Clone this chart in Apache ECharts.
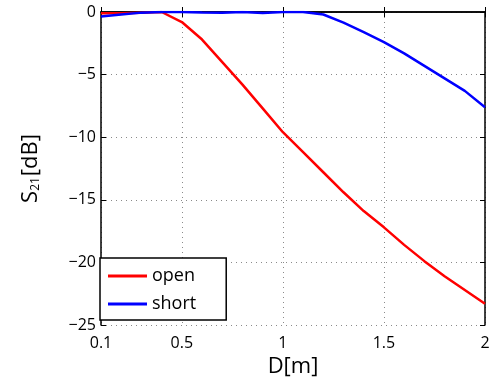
<!DOCTYPE html>
<html><head><meta charset="utf-8">
<script src="https://cdn.jsdelivr.net/npm/echarts@6/dist/echarts.min.js"></script>
<style>html,body{margin:0;padding:0;background:#fff}#c{width:493px;height:387px}</style>
</head><body><div id="c"></div>
<script>
var distances = [0.1,0.2,0.3,0.4,0.5,0.6,0.7,0.8,0.9,1.0,1.1,1.2,1.3,1.4,1.5,1.6,1.7,1.8,1.9,2.0];
var openS21 = [-0.1,-0.1,-0.05,0,-0.8,-2.2,-4.0,-5.8,-7.7,-9.6,-11.2,-12.8,-14.4,-15.9,-17.2,-18.6,-19.9,-21.1,-22.2,-23.3];
var shortS21 = [-0.35,-0.2,-0.05,0,0,-0.03,-0.05,0,-0.08,0,0,-0.2,-0.85,-1.6,-2.4,-3.3,-4.3,-5.3,-6.3,-7.6];
var xTicks = [0.1,0.5,1,1.5,2];
var seriesNames = ['open','short'];

var FONT = 'Open Sans';
function pairs(xs, ys){ return xs.map(function(x,i){return [x, ys[i]];}); }
var grid = {left:101, top:12, right:8, bottom:62, show:false};
var dotted = {show:true, lineStyle:{color:'#8a8a8a', type:[1,4], width:1}};
var chart = echarts.init(document.getElementById('c'));
chart.setOption({
  animation:false,
  grid: grid,
  legend: {
    left:100, top:258, orient:'vertical',
    data: seriesNames,
    icon:'rect', itemWidth:39, itemHeight:3, itemGap:10,
    padding:[9,30,7,8],
    backgroundColor:'#fff', borderColor:'#000', borderWidth:1.5, borderRadius:0,
    textStyle:{fontFamily:FONT, fontSize:18, lineHeight:18, color:'#000'}
  },
  xAxis: [{
    type:'value', min:0.1, max:2, position:'bottom',
    name:'D[m]', nameLocation:'middle', nameGap:28,
    nameTextStyle:{fontFamily:FONT, fontSize:22, color:'#000'},
    axisLine:{show:true, lineStyle:{color:'#000', width:1.5}},
    axisTick:{show:true, inside:true, length:5, customValues:xTicks, lineStyle:{color:'#000'}},
    axisLabel:{customValues:xTicks, fontFamily:FONT, fontSize:16, color:'#000', margin:10,
      formatter:function(v){return String(v);}},
    splitLine: dotted
  },{
    type:'value', min:0.1, max:2, position:'top',
    axisLine:{show:true, onZero:false, lineStyle:{color:'#000', width:1.5}},
    axisTick:{show:true, inside:true, length:5, customValues:xTicks, lineStyle:{color:'#000'}},
    axisLabel:{show:false}, splitLine:{show:false}
  }],
  yAxis: [{
    type:'value', min:-25, max:0, interval:5,
    name:'{a|S}{b|21}{a|[dB]}', nameLocation:'middle', nameGap:59, nameRotate:90,
    nameTextStyle:{rich:{
      a:{fontFamily:FONT, fontSize:22, color:'#000'},
      b:{fontFamily:FONT, fontSize:12, color:'#000', padding:[10,1,0,0]}
    }},
    axisLine:{show:true, onZero:false, lineStyle:{color:'#000', width:1.5}},
    axisTick:{show:true, inside:true, length:5, lineStyle:{color:'#000'}},
    axisLabel:{fontFamily:FONT, fontSize:16, color:'#000', margin:5,
      formatter:function(v){return String(v).replace('-','\u2212');}},
    splitLine: dotted
  },{
    type:'value', min:-25, max:0, interval:5, position:'right',
    axisLine:{show:true, onZero:false, lineStyle:{color:'#000', width:1.5}},
    axisTick:{show:true, inside:true, length:5, lineStyle:{color:'#000'}},
    axisLabel:{show:false}, splitLine:{show:false}
  }],
  series: [
    {name:seriesNames[0], type:'line', data:pairs(distances, openS21), showSymbol:false, symbol:'none',
      smooth:false, lineStyle:{color:'#ff0000', width:2.5}, itemStyle:{color:'#ff0000'}, z:3},
    {name:seriesNames[1], type:'line', data:pairs(distances, shortS21), showSymbol:false, symbol:'none',
      smooth:false, lineStyle:{color:'#0000ff', width:2.5}, itemStyle:{color:'#0000ff'}, z:4}
  ]
});
</script></body></html>
